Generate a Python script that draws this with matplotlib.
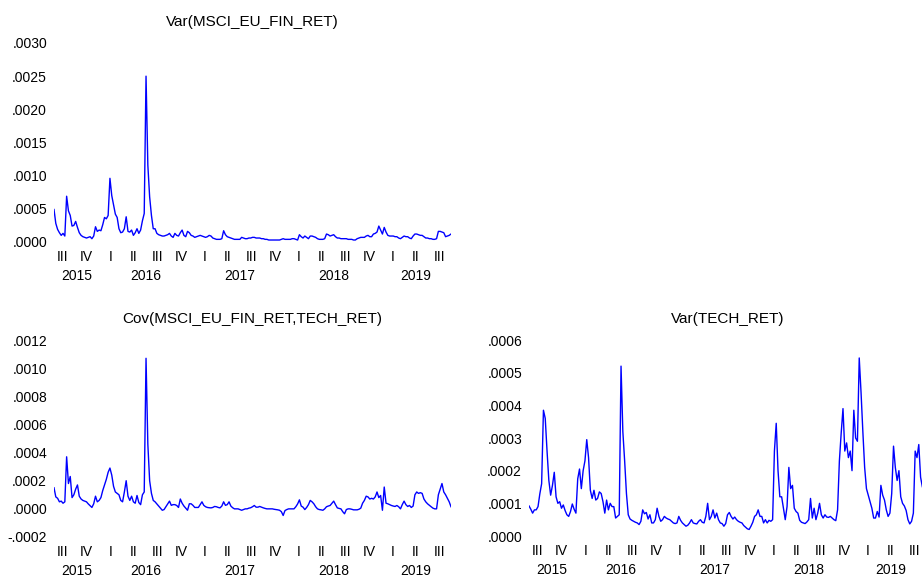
import numpy as np
import pandas as pd
import matplotlib
matplotlib.use('Agg')
import matplotlib.pyplot as plt
import matplotlib.dates as mdates

plt.rcParams['font.family'] = ['Liberation Sans', 'DejaVu Sans']

dates = pd.date_range('2015-07-12', periods=221, freq='7D')

var_fin = [4.9, 2.8, 1.9, 1.4, 1.0, 1.3, 0.9, 6.9, 4.7, 4.0,
           2.4, 2.5, 3.1, 2.2, 1.4, 1.0, 0.8, 0.7, 0.6, 0.7,
           0.8, 0.5, 0.9, 2.3, 1.6, 1.8, 1.7, 2.6, 3.7, 3.5,
           4.0, 9.6, 7.0, 5.6, 4.2, 3.7, 2.0, 1.4, 1.5, 2.0,
           3.8, 1.6, 1.5, 1.8, 1.0, 1.4, 2.0, 1.3, 1.8, 3.2,
           4.3, 25.0, 11.6, 6.8, 4.0, 2.0, 2.0, 1.3, 1.1, 1.0,
           0.9, 0.9, 1.0, 1.1, 1.3, 0.9, 0.7, 1.3, 1.0, 0.9,
           1.4, 1.8, 1.0, 0.8, 1.6, 1.4, 1.0, 0.9, 0.7, 0.8,
           0.9, 1.0, 0.9, 0.8, 0.7, 0.8, 1.0, 0.9, 0.6, 0.5,
           0.4, 0.4, 0.4, 0.5, 1.7, 1.1, 0.8, 0.7, 0.6, 0.5,
           0.4, 0.4, 0.4, 0.4, 0.7, 0.6, 0.5, 0.5, 0.6, 0.6,
           0.7, 0.7, 0.6, 0.6, 0.6, 0.5, 0.5, 0.4, 0.4, 0.3,
           0.3, 0.3, 0.3, 0.3, 0.3, 0.3, 0.4, 0.5, 0.4, 0.4,
           0.4, 0.4, 0.5, 0.5, 0.4, 0.3, 1.1, 0.8, 0.6, 0.9,
           0.7, 0.5, 0.9, 0.9, 0.8, 0.7, 0.5, 0.4, 0.4, 0.4,
           0.5, 1.2, 1.1, 0.9, 1.0, 1.1, 0.8, 0.6, 0.6, 0.5,
           0.5, 0.5, 0.5, 0.4, 0.4, 0.4, 0.3, 0.3, 0.5, 0.6,
           0.7, 0.7, 0.7, 0.9, 1.0, 0.8, 0.8, 1.2, 1.3, 1.5,
           2.4, 1.8, 1.2, 2.2, 1.5, 1.0, 0.9, 0.9, 0.9, 0.8,
           0.8, 0.6, 0.5, 0.7, 0.9, 0.8, 0.8, 0.6, 0.5, 0.9,
           1.2, 1.2, 1.1, 1.0, 1.0, 0.8, 0.6, 0.6, 0.5, 0.5,
           0.4, 0.4, 0.5, 1.6, 1.6, 1.5, 1.4, 0.8, 0.9, 1.0,
           1.2]

cov_fin_tech = [1.5, 0.85, 0.75, 0.5, 0.55, 0.4, 0.5, 3.7, 1.8, 2.3,
                0.8, 1.0, 1.4, 1.7, 0.9, 0.7, 0.6, 0.55, 0.5, 0.35,
                0.22, 0.1, 0.36, 0.9, 0.5, 0.6, 0.8, 1.3, 1.7, 2.1,
                2.6, 2.9, 2.4, 1.6, 1.2, 1.1, 1.0, 0.6, 0.5, 1.2,
                2.0, 0.9, 0.6, 0.9, 0.5, 0.4, 0.95, 0.45, 0.3, 1.0,
                1.2, 10.7, 4.6, 2.0, 1.1, 0.6, 0.5, 0.35, 0.2, 0.05,
                -0.1, -0.05, 0.15, 0.35, 0.55, 0.25, 0.3, 0.3, 0.24, 0.1,
                0.7, 0.4, 0.2, 0.05, -0.1, 0.36, 0.36, 0.25, 0.1, 0.1,
                0.1, 0.3, 0.5, 0.25, 0.15, 0.1, 0.08, 0.07, 0.1, 0.17,
                0.15, 0.1, 0.07, 0.2, 0.5, 0.25, 0.3, 0.5, 0.2, 0.08,
                0.0, 0.0, 0.0, -0.05, -0.1, -0.05, 0.0, 0.0, 0.05, 0.08,
                0.15, 0.24, 0.12, 0.12, 0.17, 0.12, 0.07, 0.03, 0.0, 0.0,
                0.0, 0.0, -0.03, -0.05, -0.07, -0.1, -0.2, -0.47, -0.12, -0.05,
                0.0, 0.0, 0.0, 0.0, 0.15, 0.35, 0.64, 0.2, 0.12, -0.05,
                0.1, 0.3, 0.6, 0.5, 0.36, 0.15, 0.0, -0.05, -0.07, -0.1,
                0.0, 0.15, 0.2, 0.24, 0.4, 0.55, 0.3, 0.07, 0.03, 0.0,
                -0.2, -0.35, -0.05, 0.0, 0.0, -0.03, -0.07, -0.07, -0.07, -0.03,
                0.05, 0.4, 0.6, 0.9, 0.85, 0.7, 0.75, 0.7, 0.85, 1.2,
                0.8, 0.95, -0.1, 1.55, 0.4, 0.36, 0.3, 0.24, 0.2, 0.17,
                0.24, 0.15, 0.0, 0.3, 0.55, 0.3, 0.17, 0.24, 0.1, 0.2,
                1.0, 1.2, 1.1, 1.15, 1.1, 0.7, 0.5, 0.36, 0.25, 0.15,
                0.05, 0.0, 0.0, 1.0, 1.4, 1.8, 1.2, 1.0, 0.75, 0.5,
                0.15]

var_tech = [0.92, 0.82, 0.7, 0.8, 0.8, 0.9, 1.29, 1.6, 3.85, 3.6,
            2.6, 1.7, 1.25, 1.55, 1.95, 1.2, 1.0, 1.05, 0.85, 0.95,
            0.78, 0.65, 0.6, 0.75, 0.98, 0.82, 0.7, 1.75, 2.05, 1.45,
            2.0, 2.3, 2.95, 2.4, 1.4, 1.15, 1.4, 1.1, 1.15, 1.35,
            1.3, 1.05, 0.7, 1.1, 0.8, 1.0, 0.9, 0.9, 0.55, 0.6,
            0.65, 5.2, 3.2, 2.3, 1.3, 0.65, 0.52, 0.48, 0.45, 0.42,
            0.4, 0.35, 0.45, 0.8, 0.68, 0.72, 0.52, 0.65, 0.4, 0.4,
            0.5, 0.85, 0.6, 0.45, 0.5, 0.6, 0.55, 0.52, 0.5, 0.45,
            0.4, 0.38, 0.4, 0.6, 0.48, 0.4, 0.35, 0.3, 0.33, 0.4,
            0.5, 0.4, 0.38, 0.37, 0.45, 0.5, 0.42, 0.4, 0.6, 1.0,
            0.5, 0.6, 0.8, 0.55, 0.7, 0.5, 0.4, 0.38, 0.3, 0.38,
            0.65, 0.72, 0.6, 0.52, 0.58, 0.5, 0.45, 0.42, 0.4, 0.32,
            0.27, 0.22, 0.2, 0.3, 0.42, 0.6, 0.65, 0.8, 0.6, 0.6,
            0.4, 0.5, 0.4, 0.48, 0.45, 0.5, 2.6, 3.45, 2.0, 1.2,
            1.2, 0.85, 0.5, 0.9, 2.1, 1.45, 1.55, 0.85, 0.75, 0.7,
            0.48, 0.42, 0.4, 0.38, 0.43, 0.5, 1.15, 0.55, 0.85, 0.5,
            0.7, 1.0, 0.65, 0.55, 0.65, 0.58, 0.57, 0.6, 0.55, 0.5,
            0.47, 0.8, 2.3, 3.15, 3.9, 2.6, 2.85, 2.4, 2.6, 2.0,
            3.85, 3.0, 2.9, 5.45, 4.4, 3.2, 2.1, 1.45, 1.25, 1.05,
            0.85, 0.55, 0.55, 0.75, 0.58, 1.55, 1.25, 1.1, 0.8, 0.6,
            0.7, 1.3, 2.75, 2.1, 1.7, 2.0, 1.2, 1.0, 0.92, 0.78,
            0.5, 0.37, 0.45, 0.7, 2.6, 2.4, 2.8, 1.8, 1.5, 1.4,
            1.3]

years = [2015, 2016, 2017, 2018, 2019]
roman = ['I', 'II', 'III', 'IV']

x = mdates.date2num(dates.to_pydatetime())

# quarter labels sit in the middle of each quarter
q_starts = pd.date_range('2015-07-01', '2019-10-01', freq='QS')
q_mid = q_starts[:-1] + (q_starts[1:] - q_starts[:-1]) / 2
q_x = mdates.date2num(q_mid.to_pydatetime())
q_lab = [roman[d.quarter - 1] for d in q_starts[:-1]]

# year labels centred on the visible part of each year
y_x = []
for yr in years:
    lo = max(dates[0], pd.Timestamp(yr, 1, 1))
    hi = min(dates[-1], pd.Timestamp(yr + 1, 1, 1))
    y_x.append(mdates.date2num((lo + (hi - lo) / 2).to_pydatetime()))


def fmt(v):
    return f'{v:.4f}'.replace('0.', '.', 1)


def panel(rect, vals, ticks, title):
    ax = fig.add_axes(rect)
    ax.plot(x, np.array(vals) * 1e-4, color='#0000ff', lw=1.0)
    ax.set_xlim(x[0], x[-1])
    ax.set_ylim(ticks[0], ticks[-1])
    ax.set_yticks(ticks, [fmt(t) for t in ticks])
    ax.xaxis.remove_overlapping_locs = False
    ax.set_xticks(q_x, q_lab)
    ax.set_xticks(y_x, [str(y) for y in years], minor=True)
    ax.tick_params(which='both', length=0, labelsize=10)
    ax.tick_params(axis='y', pad=5)
    ax.tick_params(axis='x', which='major', pad=5.5)
    ax.tick_params(axis='x', which='minor', pad=19.5)
    for s in ax.spines.values():
        s.set_visible(False)
    ax.set_title(title, fontsize=11, pad=12.5)
    return ax


fig = plt.figure(figsize=(9.22, 5.8), dpi=100)
W, H = 922, 580
panel([54 / W, (H - 242) / H, 397 / W, 199 / H], var_fin,
      np.arange(0, 0.00301, 0.0005), 'Var(MSCI_EU_FIN_RET)')
panel([54 / W, (H - 537) / H, 397 / W, 197 / H], cov_fin_tech,
      np.arange(-0.0002, 0.00121, 0.0002), 'Cov(MSCI_EU_FIN_RET,TECH_RET)')
panel([529 / W, (H - 536) / H, 397 / W, 196 / H], var_tech,
      np.arange(0, 0.00061, 0.0001), 'Var(TECH_RET)')

fig.savefig('out.png', dpi=100)
